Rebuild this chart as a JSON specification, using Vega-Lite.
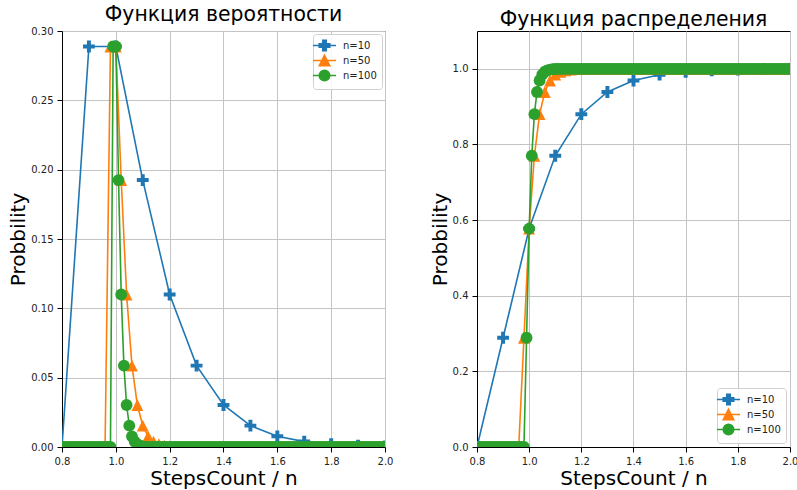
{
"$schema": "https://vega.github.io/schema/vega-lite/v6.json",
"padding": {"left": 8, "top": 4, "right": 5, "bottom": 0},
"datasets": {"d": [
{"n":"n=10","x":0.8,"p":0,"F":0},{"n":"n=10","x":0.9,"p":0.2888,"F":0.2888},{"n":"n=10","x":1.0,"p":0.2888,"F":0.5776},{"n":"n=10","x":1.1,"p":0.1925,"F":0.7701},{"n":"n=10","x":1.2,"p":0.11,"F":0.8801},{"n":"n=10","x":1.3,"p":0.0587,"F":0.9388},{"n":"n=10","x":1.4,"p":0.0303,"F":0.9691},{"n":"n=10","x":1.5,"p":0.0154,"F":0.9845},{"n":"n=10","x":1.6,"p":0.0077,"F":0.9922},{"n":"n=10","x":1.7,"p":0.0039,"F":0.9961},{"n":"n=10","x":1.8,"p":0.002,"F":0.998},{"n":"n=10","x":1.9,"p":0.001,"F":0.999},{"n":"n=10","x":2.0,"p":0.0005,"F":0.9995},
{"n":"n=50","x":0.8,"p":0,"F":0},{"n":"n=50","x":0.82,"p":0,"F":0},{"n":"n=50","x":0.84,"p":0,"F":0},{"n":"n=50","x":0.86,"p":0,"F":0},{"n":"n=50","x":0.88,"p":0,"F":0},{"n":"n=50","x":0.9,"p":0,"F":0},{"n":"n=50","x":0.92,"p":0,"F":0},{"n":"n=50","x":0.94,"p":0,"F":0},{"n":"n=50","x":0.96,"p":0,"F":0},
{"n":"n=50","x":0.98,"p":0.2888,"F":0.2888},{"n":"n=50","x":1.0,"p":0.2888,"F":0.5776},{"n":"n=50","x":1.02,"p":0.1925,"F":0.7701},{"n":"n=50","x":1.04,"p":0.11,"F":0.8801},{"n":"n=50","x":1.06,"p":0.0587,"F":0.9388},{"n":"n=50","x":1.08,"p":0.0303,"F":0.9691},{"n":"n=50","x":1.1,"p":0.0154,"F":0.9845},{"n":"n=50","x":1.12,"p":0.0077,"F":0.9922},{"n":"n=50","x":1.14,"p":0.0039,"F":0.9961},{"n":"n=50","x":1.16,"p":0.002,"F":0.998},{"n":"n=50","x":1.18,"p":0.001,"F":0.999},{"n":"n=50","x":1.2,"p":0.0005,"F":0.9995},{"n":"n=50","x":1.22,"p":0.0002,"F":0.9998},{"n":"n=50","x":1.24,"p":0.0001,"F":0.9999},
{"n":"n=50","x":1.26,"p":0,"F":1},{"n":"n=50","x":1.28,"p":0,"F":1},{"n":"n=50","x":1.3,"p":0,"F":1},{"n":"n=50","x":1.32,"p":0,"F":1},{"n":"n=50","x":1.34,"p":0,"F":1},{"n":"n=50","x":1.36,"p":0,"F":1},{"n":"n=50","x":1.38,"p":0,"F":1},{"n":"n=50","x":1.4,"p":0,"F":1},{"n":"n=50","x":1.42,"p":0,"F":1},{"n":"n=50","x":1.44,"p":0,"F":1},{"n":"n=50","x":1.46,"p":0,"F":1},{"n":"n=50","x":1.48,"p":0,"F":1},{"n":"n=50","x":1.5,"p":0,"F":1},{"n":"n=50","x":1.52,"p":0,"F":1},{"n":"n=50","x":1.54,"p":0,"F":1},{"n":"n=50","x":1.56,"p":0,"F":1},{"n":"n=50","x":1.58,"p":0,"F":1},{"n":"n=50","x":1.6,"p":0,"F":1},{"n":"n=50","x":1.62,"p":0,"F":1},{"n":"n=50","x":1.64,"p":0,"F":1},{"n":"n=50","x":1.66,"p":0,"F":1},{"n":"n=50","x":1.68,"p":0,"F":1},{"n":"n=50","x":1.7,"p":0,"F":1},{"n":"n=50","x":1.72,"p":0,"F":1},{"n":"n=50","x":1.74,"p":0,"F":1},{"n":"n=50","x":1.76,"p":0,"F":1},{"n":"n=50","x":1.78,"p":0,"F":1},{"n":"n=50","x":1.8,"p":0,"F":1},{"n":"n=50","x":1.82,"p":0,"F":1},{"n":"n=50","x":1.84,"p":0,"F":1},{"n":"n=50","x":1.86,"p":0,"F":1},{"n":"n=50","x":1.88,"p":0,"F":1},{"n":"n=50","x":1.9,"p":0,"F":1},{"n":"n=50","x":1.92,"p":0,"F":1},{"n":"n=50","x":1.94,"p":0,"F":1},{"n":"n=50","x":1.96,"p":0,"F":1},{"n":"n=50","x":1.98,"p":0,"F":1},{"n":"n=50","x":2.0,"p":0,"F":1},
{"n":"n=100","x":0.8,"p":0,"F":0},{"n":"n=100","x":0.81,"p":0,"F":0},{"n":"n=100","x":0.82,"p":0,"F":0},{"n":"n=100","x":0.83,"p":0,"F":0},{"n":"n=100","x":0.84,"p":0,"F":0},{"n":"n=100","x":0.85,"p":0,"F":0},{"n":"n=100","x":0.86,"p":0,"F":0},{"n":"n=100","x":0.87,"p":0,"F":0},{"n":"n=100","x":0.88,"p":0,"F":0},{"n":"n=100","x":0.89,"p":0,"F":0},{"n":"n=100","x":0.9,"p":0,"F":0},{"n":"n=100","x":0.91,"p":0,"F":0},{"n":"n=100","x":0.92,"p":0,"F":0},{"n":"n=100","x":0.93,"p":0,"F":0},{"n":"n=100","x":0.94,"p":0,"F":0},{"n":"n=100","x":0.95,"p":0,"F":0},{"n":"n=100","x":0.96,"p":0,"F":0},{"n":"n=100","x":0.97,"p":0,"F":0},{"n":"n=100","x":0.98,"p":0,"F":0},
{"n":"n=100","x":0.99,"p":0.2888,"F":0.2888},{"n":"n=100","x":1.0,"p":0.2888,"F":0.5776},{"n":"n=100","x":1.01,"p":0.1925,"F":0.7701},{"n":"n=100","x":1.02,"p":0.11,"F":0.8801},{"n":"n=100","x":1.03,"p":0.0587,"F":0.9388},{"n":"n=100","x":1.04,"p":0.0303,"F":0.9691},{"n":"n=100","x":1.05,"p":0.0154,"F":0.9845},{"n":"n=100","x":1.06,"p":0.0077,"F":0.9922},{"n":"n=100","x":1.07,"p":0.0039,"F":0.9961},{"n":"n=100","x":1.08,"p":0.002,"F":0.998},{"n":"n=100","x":1.09,"p":0.001,"F":0.999},{"n":"n=100","x":1.1,"p":0.0005,"F":0.9995},{"n":"n=100","x":1.11,"p":0.0002,"F":0.9998},{"n":"n=100","x":1.12,"p":0.0001,"F":0.9999},
{"n":"n=100","x":1.13,"p":0,"F":1},{"n":"n=100","x":1.14,"p":0,"F":1},{"n":"n=100","x":1.15,"p":0,"F":1},{"n":"n=100","x":1.16,"p":0,"F":1},{"n":"n=100","x":1.17,"p":0,"F":1},{"n":"n=100","x":1.18,"p":0,"F":1},{"n":"n=100","x":1.19,"p":0,"F":1},{"n":"n=100","x":1.2,"p":0,"F":1},{"n":"n=100","x":1.21,"p":0,"F":1},{"n":"n=100","x":1.22,"p":0,"F":1},{"n":"n=100","x":1.23,"p":0,"F":1},{"n":"n=100","x":1.24,"p":0,"F":1},{"n":"n=100","x":1.25,"p":0,"F":1},{"n":"n=100","x":1.26,"p":0,"F":1},{"n":"n=100","x":1.27,"p":0,"F":1},{"n":"n=100","x":1.28,"p":0,"F":1},{"n":"n=100","x":1.29,"p":0,"F":1},{"n":"n=100","x":1.3,"p":0,"F":1},{"n":"n=100","x":1.31,"p":0,"F":1},{"n":"n=100","x":1.32,"p":0,"F":1},{"n":"n=100","x":1.33,"p":0,"F":1},{"n":"n=100","x":1.34,"p":0,"F":1},{"n":"n=100","x":1.35,"p":0,"F":1},{"n":"n=100","x":1.36,"p":0,"F":1},{"n":"n=100","x":1.37,"p":0,"F":1},{"n":"n=100","x":1.38,"p":0,"F":1},{"n":"n=100","x":1.39,"p":0,"F":1},{"n":"n=100","x":1.4,"p":0,"F":1},{"n":"n=100","x":1.41,"p":0,"F":1},{"n":"n=100","x":1.42,"p":0,"F":1},{"n":"n=100","x":1.43,"p":0,"F":1},{"n":"n=100","x":1.44,"p":0,"F":1},{"n":"n=100","x":1.45,"p":0,"F":1},{"n":"n=100","x":1.46,"p":0,"F":1},{"n":"n=100","x":1.47,"p":0,"F":1},{"n":"n=100","x":1.48,"p":0,"F":1},{"n":"n=100","x":1.49,"p":0,"F":1},{"n":"n=100","x":1.5,"p":0,"F":1},{"n":"n=100","x":1.51,"p":0,"F":1},{"n":"n=100","x":1.52,"p":0,"F":1},{"n":"n=100","x":1.53,"p":0,"F":1},{"n":"n=100","x":1.54,"p":0,"F":1},{"n":"n=100","x":1.55,"p":0,"F":1},{"n":"n=100","x":1.56,"p":0,"F":1},{"n":"n=100","x":1.57,"p":0,"F":1},{"n":"n=100","x":1.58,"p":0,"F":1},{"n":"n=100","x":1.59,"p":0,"F":1},{"n":"n=100","x":1.6,"p":0,"F":1},{"n":"n=100","x":1.61,"p":0,"F":1},{"n":"n=100","x":1.62,"p":0,"F":1},{"n":"n=100","x":1.63,"p":0,"F":1},{"n":"n=100","x":1.64,"p":0,"F":1},{"n":"n=100","x":1.65,"p":0,"F":1},{"n":"n=100","x":1.66,"p":0,"F":1},{"n":"n=100","x":1.67,"p":0,"F":1},{"n":"n=100","x":1.68,"p":0,"F":1},{"n":"n=100","x":1.69,"p":0,"F":1},{"n":"n=100","x":1.7,"p":0,"F":1},{"n":"n=100","x":1.71,"p":0,"F":1},{"n":"n=100","x":1.72,"p":0,"F":1},{"n":"n=100","x":1.73,"p":0,"F":1},{"n":"n=100","x":1.74,"p":0,"F":1},{"n":"n=100","x":1.75,"p":0,"F":1},{"n":"n=100","x":1.76,"p":0,"F":1},{"n":"n=100","x":1.77,"p":0,"F":1},{"n":"n=100","x":1.78,"p":0,"F":1},{"n":"n=100","x":1.79,"p":0,"F":1},{"n":"n=100","x":1.8,"p":0,"F":1},{"n":"n=100","x":1.81,"p":0,"F":1},{"n":"n=100","x":1.82,"p":0,"F":1},{"n":"n=100","x":1.83,"p":0,"F":1},{"n":"n=100","x":1.84,"p":0,"F":1},{"n":"n=100","x":1.85,"p":0,"F":1},{"n":"n=100","x":1.86,"p":0,"F":1},{"n":"n=100","x":1.87,"p":0,"F":1},{"n":"n=100","x":1.88,"p":0,"F":1},{"n":"n=100","x":1.89,"p":0,"F":1},{"n":"n=100","x":1.9,"p":0,"F":1},{"n":"n=100","x":1.91,"p":0,"F":1},{"n":"n=100","x":1.92,"p":0,"F":1},{"n":"n=100","x":1.93,"p":0,"F":1},{"n":"n=100","x":1.94,"p":0,"F":1},{"n":"n=100","x":1.95,"p":0,"F":1},{"n":"n=100","x":1.96,"p":0,"F":1},{"n":"n=100","x":1.97,"p":0,"F":1},{"n":"n=100","x":1.98,"p":0,"F":1},{"n":"n=100","x":1.99,"p":0,"F":1},{"n":"n=100","x":2.0,"p":0,"F":1}
]},
"hconcat": [
{
"width": 323, "height": 416,
"title": {"text": "Функция вероятности"},
"data": {"name": "d"},
"encoding": {
  "x": {"field": "x", "type": "quantitative", "scale": {"domain": [0.8, 2.0], "nice": false, "zero": false}, "axis": {"values": [0.8, 1.0, 1.2, 1.4, 1.6, 1.8, 2.0], "format": ".1f", "title": "StepsCount / n", "titlePadding": 2}},
  "y": {"field": "p", "type": "quantitative", "scale": {"domain": [0, 0.3], "nice": false}, "axis": {"values": [0, 0.05, 0.1, 0.15, 0.2, 0.25, 0.3], "format": ".2f", "title": "Probbility", "titlePadding": 2}}
},
"layer": [
  {"transform": [{"filter": "datum.n === 'n=10'"}], "mark": {"type": "line", "clip": true, "strokeWidth": 1.6, "point": {"shape": "M-1,-0.333H-0.333V-1H0.333V-0.333H1V0.333H0.333V1H-0.333V0.333H-1Z", "size": 140}}, "encoding": {"color": {"field": "n", "type": "nominal", "scale": {"domain": ["n=10", "n=50", "n=100"], "range": ["#1f77b4", "#ff7f0e", "#2ca02c"]}, "legend": null}}},
  {"transform": [{"filter": "datum.n === 'n=50'"}], "mark": {"type": "line", "clip": true, "strokeWidth": 1.6, "point": {"shape": "M0,-1L1,1L-1,1Z", "size": 140}}, "encoding": {"color": {"field": "n", "type": "nominal", "scale": {"domain": ["n=10", "n=50", "n=100"], "range": ["#1f77b4", "#ff7f0e", "#2ca02c"]}, "legend": null}}},
  {"transform": [{"filter": "datum.n === 'n=100'"}], "mark": {"type": "line", "clip": true, "strokeWidth": 1.6, "point": {"shape": "circle", "size": 140}}, "encoding": {"color": {"field": "n", "type": "nominal", "scale": {"domain": ["n=10", "n=50", "n=100"], "range": ["#1f77b4", "#ff7f0e", "#2ca02c"]}, "legend": null}}},
  {"transform": [{"filter": "datum.x > 100"}], "mark": {"type": "point", "filled": true, "clip": true, "opacity": 1},
   "encoding": {
     "fill": {"field": "n", "type": "nominal", "scale": {"domain": ["n=10", "n=50", "n=100"], "range": ["#1f77b4", "#ff7f0e", "#2ca02c"]}, "legend": {"title": null, "orient": "top-right", "offset": 3}},
     "stroke": {"field": "n", "type": "nominal", "scale": {"domain": ["n=10", "n=50", "n=100"], "range": ["#1f77b4", "#ff7f0e", "#2ca02c"]}, "legend": {"title": null, "orient": "top-right", "offset": 3}},
     "shape": {"field": "n", "type": "nominal", "scale": {"domain": ["n=10", "n=50", "n=100"], "range": ["M-2.2,0H2.2M-1,-0.333H-0.333V-1H0.333V-0.333H1V0.333H0.333V1H-0.333V0.333H-1Z", "M-2.2,0H2.2M0,-1L1,1L-1,1Z", "M-2.2,0H2.2M1,0A1,1,0,1,1,-1,0A1,1,0,1,1,1,0Z"]}, "legend": {"title": null, "orient": "top-right", "offset": 3}}
   }}
]
},
{
"width": 313, "height": 416,
"title": {"text": "Функция распределения"},
"data": {"name": "d"},
"encoding": {
  "x": {"field": "x", "type": "quantitative", "scale": {"domain": [0.8, 2.0], "nice": false, "zero": false}, "axis": {"values": [0.8, 1.0, 1.2, 1.4, 1.6, 1.8, 2.0], "format": ".1f", "title": "StepsCount / n", "titlePadding": 2}},
  "y": {"field": "F", "type": "quantitative", "scale": {"domain": [0, 1.1], "nice": false}, "axis": {"values": [0, 0.2, 0.4, 0.6, 0.8, 1.0], "format": ".1f", "title": "Probbility", "titlePadding": 2}}
},
"layer": [
  {"transform": [{"filter": "datum.n === 'n=10'"}], "mark": {"type": "line", "clip": true, "strokeWidth": 1.6, "point": {"shape": "M-1,-0.333H-0.333V-1H0.333V-0.333H1V0.333H0.333V1H-0.333V0.333H-1Z", "size": 140}}, "encoding": {"color": {"field": "n", "type": "nominal", "scale": {"domain": ["n=10", "n=50", "n=100"], "range": ["#1f77b4", "#ff7f0e", "#2ca02c"]}, "legend": null}}},
  {"transform": [{"filter": "datum.n === 'n=50'"}], "mark": {"type": "line", "clip": true, "strokeWidth": 1.6, "point": {"shape": "M0,-1L1,1L-1,1Z", "size": 140}}, "encoding": {"color": {"field": "n", "type": "nominal", "scale": {"domain": ["n=10", "n=50", "n=100"], "range": ["#1f77b4", "#ff7f0e", "#2ca02c"]}, "legend": null}}},
  {"transform": [{"filter": "datum.n === 'n=100'"}], "mark": {"type": "line", "clip": true, "strokeWidth": 1.6, "point": {"shape": "circle", "size": 140}}, "encoding": {"color": {"field": "n", "type": "nominal", "scale": {"domain": ["n=10", "n=50", "n=100"], "range": ["#1f77b4", "#ff7f0e", "#2ca02c"]}, "legend": null}}},
  {"transform": [{"filter": "datum.x > 100"}], "mark": {"type": "point", "filled": true, "clip": true, "opacity": 1},
   "encoding": {
     "fill": {"field": "n", "type": "nominal", "scale": {"domain": ["n=10", "n=50", "n=100"], "range": ["#1f77b4", "#ff7f0e", "#2ca02c"]}, "legend": {"title": null, "orient": "bottom-right", "offset": 4}},
     "stroke": {"field": "n", "type": "nominal", "scale": {"domain": ["n=10", "n=50", "n=100"], "range": ["#1f77b4", "#ff7f0e", "#2ca02c"]}, "legend": {"title": null, "orient": "bottom-right", "offset": 4}},
     "shape": {"field": "n", "type": "nominal", "scale": {"domain": ["n=10", "n=50", "n=100"], "range": ["M-2.2,0H2.2M-1,-0.333H-0.333V-1H0.333V-0.333H1V0.333H0.333V1H-0.333V0.333H-1Z", "M-2.2,0H2.2M0,-1L1,1L-1,1Z", "M-2.2,0H2.2M1,0A1,1,0,1,1,-1,0A1,1,0,1,1,1,0Z"]}, "legend": {"title": null, "orient": "bottom-right", "offset": 4}}
   }}
]
}
],
"resolve": {"legend": {"fill": "independent", "stroke": "independent", "shape": "independent"}},
"config": {
  "font": "DejaVu Sans",
  "concat": {"spacing": 35},
  "view": {"stroke": "#000", "strokeWidth": 1},
  "axis": {"domainColor": "#000", "domainWidth": 1, "tickColor": "#000", "tickSize": 5, "labelPadding": 4, "labelColor": "#222", "labelFontSize": 10, "labelFlush": false, "labelOverlap": false, "titleFontSize": 20, "titleFontWeight": "normal", "titleColor": "#000", "gridColor": "#c4c4c4", "gridWidth": 1},
  "title": {"fontSize": 20.4, "fontWeight": "normal", "color": "#000", "frame": "group", "anchor": "middle", "offset": 1},
  "legend": {"labelFontSize": 10, "labelColor": "#222", "fillColor": "rgba(255,255,255,0.85)", "strokeColor": "#d0d0d0", "cornerRadius": 3, "padding": 5, "symbolSize": 110, "symbolStrokeWidth": 1.6, "symbolOpacity": 1, "labelOffset": 12, "rowPadding": -2.5}
}
}
